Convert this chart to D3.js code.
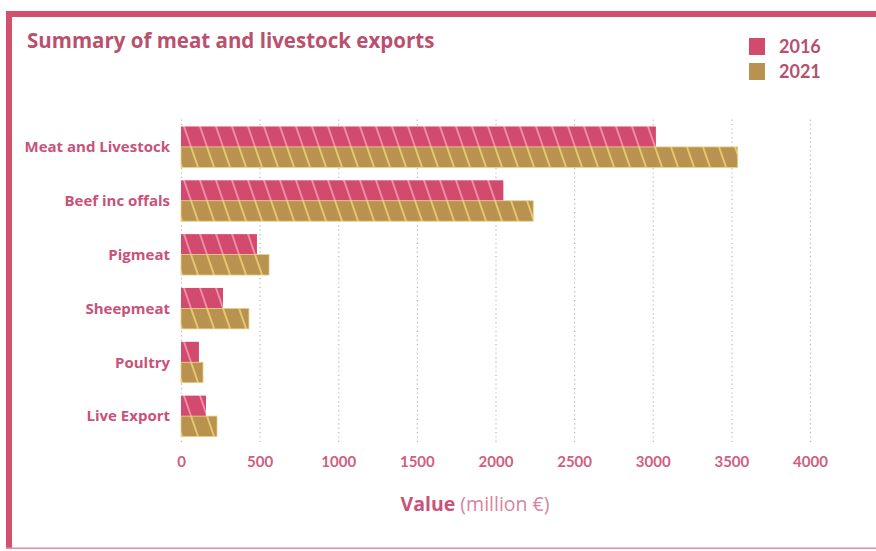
<!DOCTYPE html>
<html>
<head>
<meta charset="utf-8">
<script src="https://cdn.jsdelivr.net/npm/d3@7"></script>
<style>
  html, body { margin: 0; padding: 0; background: #fff; }
  svg { display: block; font-family: "Open Sans", Lato, sans-serif; }
  .grid line { stroke: #b8b8b8; stroke-width: 1.2; stroke-dasharray: 1.2 3.2; }
  .grid path { display: none; }
  .xaxis path, .xaxis line { display: none; }
  .xaxis text { fill: #cf5e80; font-size: 15px; font-weight: 700; font-family: Lato, sans-serif; }
</style>
</head>
<body>
<svg id="chart" width="876" height="551"></svg>
<script>
// Summary of meat and livestock exports, million €
const categories = ["Meat and Livestock", "Beef inc offals", "Pigmeat", "Sheepmeat", "Poultry", "Live Export"];
const years = ["2016", "2021"];
const values2016 = [3020, 2050, 483, 267, 114, 159];
const values2021 = [3540, 2240, 560, 432, 140, 229];
const xTicks = [0, 500, 1000, 1500, 2000, 2500, 3000, 3500, 4000];

const svg = d3.select("#chart");
const W = 876, H = 551;

const colors = { "2016": "#d24a6e", "2021": "#b99250" };
const stripes = { "2016": "#f4a2b6", "2021": "#efd67a" };

// frame
svg.append("rect").attr("x", 6).attr("y", 11).attr("width", W - 6).attr("height", 6).attr("fill", "#d4506f");
svg.append("rect").attr("x", 6).attr("y", 11).attr("width", 6).attr("height", 538).attr("fill", "#d4506f");
svg.append("rect").attr("x", 6).attr("y", 547.5).attr("width", W - 6).attr("height", 1.5).attr("fill", "#e58aa2");

// hatch patterns
const defs = svg.append("defs");
years.forEach((yr) => {
  const p = defs.append("pattern")
    .attr("id", "hatch" + yr)
    .attr("patternUnits", "userSpaceOnUse")
    .attr("width", 16)
    .attr("height", 40)
    .attr("patternTransform", "skewX(19)");
  p.append("rect").attr("width", 16).attr("height", 40).attr("fill", colors[yr]);
  p.append("line")
    .attr("x1", 8).attr("x2", 8).attr("y1", 0).attr("y2", 40)
    .attr("stroke", stripes[yr]).attr("stroke-width", 1.6);
});

const x = d3.scaleLinear().domain([0, 4000]).range([181, 810]);
const y = d3.scaleBand().domain(categories).range([120, 443]).paddingInner(0.24).paddingOuter(0.12);
const ySub = d3.scaleBand().domain(years).range([0, y.bandwidth()]);

// grid
svg.append("g")
  .attr("class", "grid")
  .attr("transform", "translate(0,442)")
  .call(d3.axisBottom(x).tickValues(xTicks).tickSize(-324).tickFormat(""));

// x tick labels
svg.append("g")
  .attr("class", "xaxis")
  .attr("transform", "translate(0,456)")
  .call(d3.axisBottom(x).tickValues(xTicks).tickSize(0).tickPadding(0).tickFormat(d3.format("d")))
  .selectAll("text").attr("dy", "0.72em");

// bars
const rows = categories.map((c, i) => ({ cat: c, vals: { "2016": values2016[i], "2021": values2021[i] } }));
const groups = svg.append("g").selectAll("g.row")
  .data(rows)
  .join("g")
  .attr("class", "row")
  .attr("transform", (d) => `translate(0,${y(d.cat)})`);

groups.selectAll("rect")
  .data((d) => years.map((yr) => ({ yr, v: d.vals[yr] })))
  .join("rect")
  .attr("x", x(0))
  .attr("y", (d) => ySub(d.yr))
  .attr("width", (d) => x(d.v) - x(0))
  .attr("height", ySub.bandwidth())
  .attr("fill", (d) => `url(#hatch${d.yr})`)
  .attr("stroke", (d) => d.yr === "2021" ? "#e8cf86" : "none")
  .attr("stroke-width", 0.8);

// category labels
svg.append("g").selectAll("text")
  .data(categories)
  .join("text")
  .attr("x", 170)
  .attr("y", (d) => y(d) + y.bandwidth() / 2)
  .attr("dy", "0.35em")
  .attr("text-anchor", "end")
  .attr("fill", "#c9527a")
  .attr("font-size", 15)
  .attr("font-weight", 700)
  .text((d) => d);

// title
svg.append("text")
  .attr("x", 27).attr("y", 48)
  .attr("fill", "#b9516e")
  .attr("font-size", 20.5)
  .attr("font-weight", 700)
  .text("Summary of meat and livestock exports");

// legend
const legend = svg.append("g").attr("transform", "translate(749,38)");
const li = legend.selectAll("g").data(years).join("g").attr("transform", (d, i) => `translate(0,${i * 25})`);
li.append("rect").attr("width", 16).attr("height", 17).attr("fill", (d) => colors[d]);
li.append("text")
  .attr("x", 30).attr("y", 8.5).attr("dy", "0.36em")
  .attr("fill", "#b5506f").attr("font-size", 18).attr("font-weight", 700)
  .attr("font-family", "Lato, sans-serif")
  .text((d) => d);

// axis title
const at = svg.append("text")
  .attr("x", 475).attr("y", 511)
  .attr("text-anchor", "middle")
  .attr("fill", "#c9527a")
  .attr("font-size", 19.5);
at.append("tspan").attr("font-weight", 700).text("Value");
at.append("tspan").attr("fill", "#d8849d").text(" (million €)");
</script>
</body>
</html>
